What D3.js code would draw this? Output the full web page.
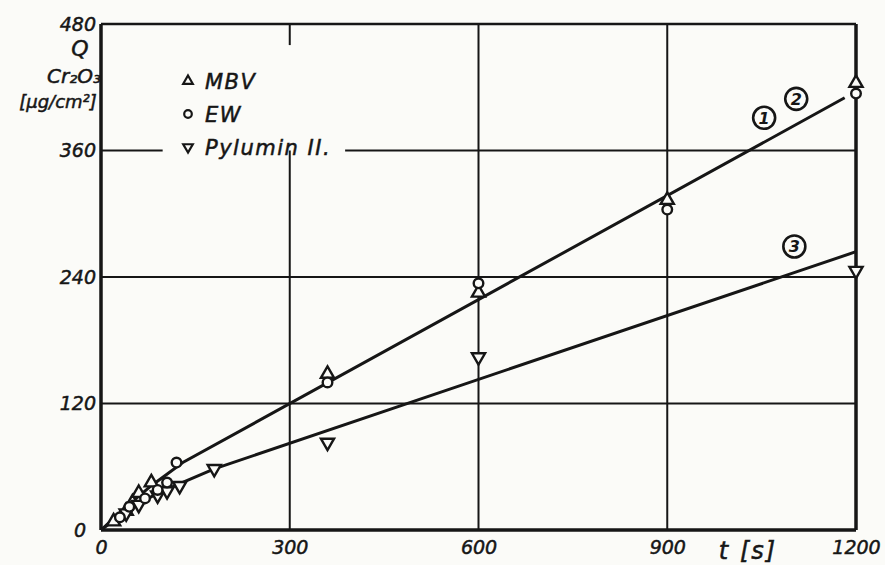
<!DOCTYPE html>
<html>
<head>
<meta charset="utf-8">
<script src="https://cdn.jsdelivr.net/npm/d3@7"></script>
<style>
  body { margin: 0; background: #fbfbf8; }
  svg { display: block; }
  .tick text { font-family: "DejaVu Sans", sans-serif; font-style: italic; font-size: 19px; fill: #161616; stroke: #161616; stroke-width: 0.5px; }
</style>
</head>
<body>
<div id="chart"></div>
<script>
// time [s] and Q Cr2O3 [µg/cm²]
const xTicks = [0, 300, 600, 900, 1200];
const yTicks = [0, 120, 240, 360, 480];

const mbvT = [20, 40, 50, 60, 80, 360, 600, 900, 1200];
const mbvQ = [8, 18, 26, 35, 45, 148, 225, 313, 424];

const ewT = [30, 45, 70, 90, 105, 120, 360, 600, 900, 1200];
const ewQ = [12, 22, 30, 38, 45, 64, 140, 234, 304, 414];

const pyT = [40, 60, 90, 105, 125, 180, 360, 600, 1200];
const pyQ = [16, 24, 33, 37, 42, 58, 83, 164, 246];

// hand drawn fit lines (1),(2) and (3)
const fit12T = [0, 40, 80, 130, 1182];
const fit12Q = [0, 22, 42, 64, 410];
const fit3T = [0, 40, 90, 180, 1200];
const fit3Q = [0, 18, 35, 58, 264];

const labels = [
  {text: "1", t: 1054, q: 391},
  {text: "2", t: 1105, q: 409},
  {text: "3", t: 1102, q: 269}
];

const width = 885, height = 565;
const margin = {top: 24, right: 29, bottom: 35, left: 101};
const ink = "#161616";

const svg = d3.select("#chart").append("svg")
    .attr("width", width)
    .attr("height", height);

const x = d3.scaleLinear().domain([0, 1200]).range([margin.left, width - margin.right]);
const y = d3.scaleLinear().domain([0, 480]).range([height - margin.bottom, margin.top]);

// grid
const grid = svg.append("g").attr("stroke", ink).attr("stroke-width", 2);

// horizontal lines, the 360 one is broken by the legend
grid.selectAll("line.h")
  .data(yTicks.filter(d => d > 0 && d < 480 && d !== 360))
  .join("line")
    .attr("x1", x(0)).attr("x2", x(1200))
    .attr("y1", d => y(d)).attr("y2", d => y(d));
grid.append("line")
    .attr("x1", x(0)).attr("x2", x(98))
    .attr("y1", y(360)).attr("y2", y(360));
grid.append("line")
    .attr("x1", x(388)).attr("x2", x(1200))
    .attr("y1", y(360)).attr("y2", y(360));

// vertical lines, 300 is hidden behind the legend
grid.selectAll("line.v")
  .data(xTicks.filter(d => d > 0 && d < 1200))
  .join("line")
    .attr("x1", d => x(d)).attr("x2", d => x(d))
    .attr("y1", y(0))
    .attr("y2", d => d === 300 ? y(360) : y(480));
grid.append("line")
    .attr("x1", x(300)).attr("x2", x(300))
    .attr("y1", y(480)).attr("y2", y(460));

// frame
const frame = svg.append("g").attr("stroke", ink).attr("fill", "none");
frame.append("line").attr("x1", x(0)).attr("x2", x(1200)).attr("y1", y(480)).attr("y2", y(480)).attr("stroke-width", 2.5);
frame.append("line").attr("x1", x(1200)).attr("x2", x(1200)).attr("y1", y(480)).attr("y2", y(0)).attr("stroke-width", 3.5);
frame.append("line").attr("x1", x(0)).attr("x2", x(0)).attr("y1", y(480)).attr("y2", y(0)).attr("stroke-width", 3.5);
frame.append("line").attr("x1", x(0)).attr("x2", x(1200)).attr("y1", y(0)).attr("y2", y(0)).attr("stroke-width", 3.5);

// axes (labels only)
svg.append("g")
    .attr("transform", `translate(0,${y(0)})`)
    .call(d3.axisBottom(x).tickValues(xTicks).tickFormat(d3.format("d")).tickSize(0).tickPadding(11))
    .call(g => g.select(".domain").remove());

svg.append("g")
    .attr("transform", `translate(${x(0)},0)`)
    .call(d3.axisLeft(y).tickValues(yTicks).tickFormat(d3.format("d")).tickSize(0).tickPadding(5))
    .call(g => g.select(".domain").remove())
    .call(g => g.selectAll(".tick text").filter(d => d === 0).attr("dx", -10));

// fit lines
const line = d3.line().x(d => x(d[0])).y(d => y(d[1]));
svg.append("path")
    .datum(fit12T.map((t, i) => [t, fit12Q[i]]))
    .attr("d", line)
    .attr("fill", "none").attr("stroke", ink).attr("stroke-width", 3);
svg.append("path")
    .datum(fit3T.map((t, i) => [t, fit3Q[i]]))
    .attr("d", line)
    .attr("fill", "none").attr("stroke", ink).attr("stroke-width", 3);

// markers
const triUp = d3.symbol(d3.symbolTriangle, 75)();
const marks = svg.append("g").attr("fill", "#fbfbf8").attr("stroke", ink).attr("stroke-width", 2.4);

marks.selectAll("path.mbv")
  .data(mbvT.map((t, i) => [t, mbvQ[i]]))
  .join("path")
    .attr("d", triUp)
    .attr("transform", d => `translate(${x(d[0])},${y(d[1])})`);

marks.selectAll("path.py")
  .data(pyT.map((t, i) => [t, pyQ[i]]))
  .join("path")
    .attr("d", triUp)
    .attr("transform", d => `translate(${x(d[0])},${y(d[1])}) rotate(180)`);

marks.selectAll("circle")
  .data(ewT.map((t, i) => [t, ewQ[i]]))
  .join("circle")
    .attr("cx", d => x(d[0]))
    .attr("cy", d => y(d[1]))
    .attr("r", 4.8);

// circled line numbers
const lab = svg.append("g").selectAll("g")
  .data(labels)
  .join("g")
    .attr("transform", d => `translate(${x(d.t)},${y(d.q)})`);
lab.append("circle").attr("r", 11).attr("fill", "none").attr("stroke", ink).attr("stroke-width", 2.6);
lab.append("text")
    .attr("text-anchor", "middle").attr("dy", "0.36em")
    .style("font", "italic bold 16px 'DejaVu Sans', sans-serif")
    .attr("fill", ink)
    .text(d => d.text);

// legend
const legendItems = [
  {name: "MBV", shape: "up"},
  {name: "EW", shape: "circle"},
  {name: "Pylumin II.", shape: "down"}
];
const legend = svg.append("g").attr("transform", "translate(188,81)");
const li = legend.selectAll("g")
  .data(legendItems)
  .join("g")
    .attr("transform", (d, i) => `translate(0,${i * 33})`);
li.filter(d => d.shape === "up").append("path")
    .attr("d", d3.symbol(d3.symbolTriangle, 40)())
    .attr("fill", "none").attr("stroke", ink).attr("stroke-width", 2.2);
li.filter(d => d.shape === "down").append("path")
    .attr("d", d3.symbol(d3.symbolTriangle, 40)())
    .attr("transform", "rotate(180)")
    .attr("fill", "none").attr("stroke", ink).attr("stroke-width", 2.2);
li.filter(d => d.shape === "circle").append("circle")
    .attr("r", 3.8)
    .attr("fill", "none").attr("stroke", ink).attr("stroke-width", 2.2);
li.append("text")
    .attr("x", 17).attr("dy", "0.38em")
    .style("font", "italic 21px 'DejaVu Sans', sans-serif")
    .style("letter-spacing", "1.5px")
    .attr("fill", ink).attr("stroke", ink).attr("stroke-width", 0.5)
    .text(d => d.name);

// axis titles
const title = svg.append("g")
    .attr("fill", ink).attr("stroke", ink).attr("stroke-width", 0.5)
    .style("font-family", "'DejaVu Sans', sans-serif")
    .style("font-style", "italic");
title.append("text").attr("x", 80).attr("y", 56).attr("text-anchor", "middle")
    .style("font-size", "22px").text("Q");
title.append("text").attr("x", 74).attr("y", 83).attr("text-anchor", "middle")
    .style("font-size", "20px").text("Cr₂O₃");
title.append("text").attr("x", 58).attr("y", 108).attr("text-anchor", "middle")
    .style("font-size", "18px").text("[µg/cm²]");
title.append("text").attr("x", 748).attr("y", 559).attr("text-anchor", "middle")
    .style("font-size", "24px").style("letter-spacing", "2px").text("t [s]");
</script>
</body>
</html>
